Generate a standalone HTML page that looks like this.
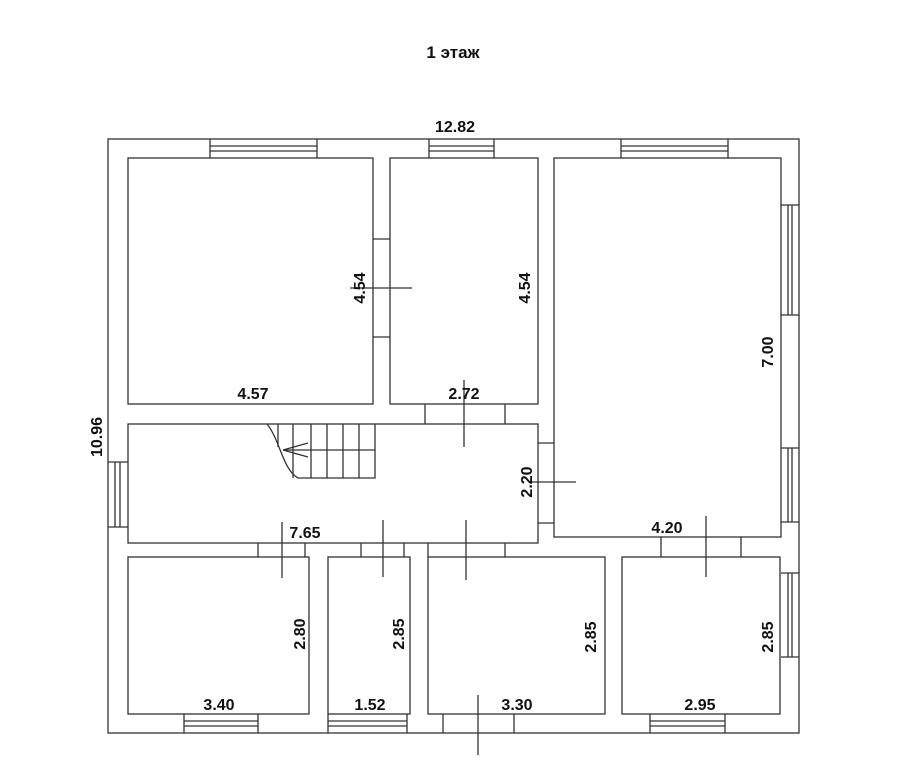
<!DOCTYPE html>
<html><head><meta charset="utf-8"><style>body{margin:0;background:#fff}svg{display:block}</style></head><body>
<svg width="907" height="768" viewBox="0 0 907 768" xmlns="http://www.w3.org/2000/svg">
<g fill="none" stroke="#333" stroke-width="1.3">
<rect x="108" y="139" width="691" height="594"/>
<rect x="128" y="158" width="245" height="246"/>
<rect x="390" y="158" width="148" height="246"/>
<rect x="554" y="158" width="227" height="379"/>
<rect x="128" y="424" width="410" height="119"/>
<rect x="128" y="557" width="181" height="157"/>
<rect x="328" y="557" width="82" height="157"/>
<rect x="428" y="557" width="177" height="157"/>
<rect x="622" y="557" width="158" height="157"/>
<path d="M210 139V158M317 139V158M210 146H317M210 151H317"/>
<path d="M429 139V158M494 139V158M429 146H494M429 151H494"/>
<path d="M621 139V158M728 139V158M621 146H728M621 151H728"/>
<path d="M781 205H799M781 315H799M788 205V315M792 205V315"/>
<path d="M781 448H799M781 522H799M788 448V522M792 448V522"/>
<path d="M781 573H799M781 657H799M788 573V657M792 573V657"/>
<path d="M108 462H128M108 527H128M115 462V527M120 462V527"/>
<path d="M184 714V733M258 714V733M184 721H258M184 726H258"/>
<path d="M328 714V733M407 714V733M328 721H407M328 726H407"/>
<path d="M650 714V733M725 714V733M650 721H725M650 726H725"/>
<path d="M373 239H390M373 337H390M350 288H412"/>
<path d="M425 404V424M505 404V424M464 380V447"/>
<path d="M538 443H554M538 523H554M530 482H576"/>
<path d="M258 543V557M305 543V557M282 522V578"/>
<path d="M361 543V557M404 543V557M383 520V577"/>
<path d="M428 543V557M505 543V557M466 520V580"/>
<path d="M661 537V557M741 537V557M706 516V577"/>
<path d="M443 714V733M514 714V733M478 695V755"/>
<path d="M267 424C280 440 283 470 298 478H375V424"/>
<path d="M278 424V447M293 424V478M311 424V478M327 424V478M343 424V478M359 424V478M283 450H375"/>
<path d="M283 450L308 443M283 450L308 457"/>
</g>
<g font-family="Liberation Sans, sans-serif" font-weight="bold" font-size="16" fill="#111" text-anchor="middle">
<text x="453" y="58" font-size="17">1 этаж</text>
<text x="455" y="132">12.82</text>
<text x="253" y="399">4.57</text>
<text x="464" y="399">2.72</text>
<text x="305" y="538">7.65</text>
<text x="667" y="533">4.20</text>
<text x="219" y="710">3.40</text>
<text x="370" y="710">1.52</text>
<text x="517" y="710">3.30</text>
<text x="700" y="710">2.95</text>
<text transform="translate(102,437) rotate(-90)">10.96</text>
<text transform="translate(365,288) rotate(-90)">4.54</text>
<text transform="translate(530,288) rotate(-90)">4.54</text>
<text transform="translate(773,352) rotate(-90)">7.00</text>
<text transform="translate(532,482) rotate(-90)">2.20</text>
<text transform="translate(305,634) rotate(-90)">2.80</text>
<text transform="translate(404,634) rotate(-90)">2.85</text>
<text transform="translate(596,637) rotate(-90)">2.85</text>
<text transform="translate(773,637) rotate(-90)">2.85</text>
</g>
</svg>
</body></html>
